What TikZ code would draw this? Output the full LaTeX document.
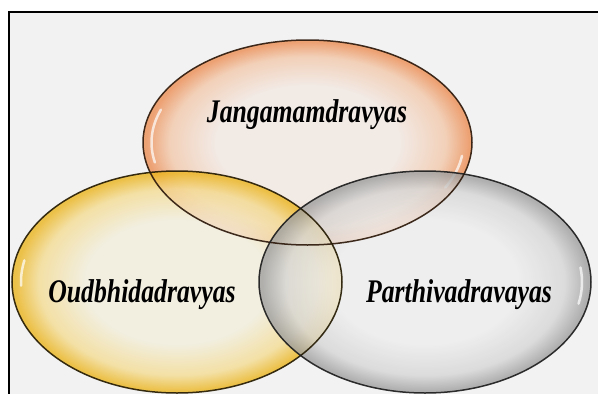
\documentclass[tikz,border=0pt]{standalone}
\usepackage{fontspec}
\usepackage{graphicx}
\usetikzlibrary{shapes.geometric}
\setmainfont{Liberation Serif}
\definecolor{bgray}{HTML}{F2F2F2}
\definecolor{jc}{HTML}{F3E8E2}
\definecolor{jm}{HTML}{F2C8AA}
\definecolor{je}{HTML}{EC8E55}
\definecolor{oc}{HTML}{F3EEDC}
\definecolor{om}{HTML}{F4DC92}
\definecolor{oe}{HTML}{EBB520}
\definecolor{pc}{HTML}{EDEDED}
\definecolor{pm}{HTML}{D6D6D6}
\definecolor{pe}{HTML}{A0A0A0}
\definecolor{jline}{HTML}{2E1A0C}
\definecolor{oline}{HTML}{261C04}
\definecolor{pline}{HTML}{1E1E1E}
\pgfdeclareradialshading{glossJ}{\pgfpoint{0bp}{0bp}}{color(0bp)=(jc); color(14bp)=(jc); color(21bp)=(jm); color(24.5bp)=(je); color(50bp)=(je)}
\pgfdeclareradialshading{glossO}{\pgfpoint{0bp}{0bp}}{color(0bp)=(oc); color(14bp)=(oc); color(21bp)=(om); color(24.5bp)=(oe); color(50bp)=(oe)}
\pgfdeclareradialshading{glossP}{\pgfpoint{0bp}{0bp}}{color(0bp)=(pc); color(14bp)=(pc); color(21bp)=(pm); color(24.5bp)=(pe); color(50bp)=(pe)}
\tikzset{
  bubble/.style={ellipse, inner sep=0pt, outer sep=0pt, fill opacity=0.8},
  rim/.style={line width=1.5pt, opacity=0.92},
  lbl/.style={anchor=base, inner sep=0pt, font=\fontsize{33}{40}\selectfont\bfseries\itshape},
  shine/.style={white, line width=2.5pt, line cap=round, opacity=0.7},
  frameline/.style={black, line width=2pt}
}
\newcommand{\sq}[1]{\scalebox{0.78}[1]{#1}}
\begin{document}
\begin{tikzpicture}[x=1pt,y=-1pt]
\useasboundingbox (0,0) rectangle (598,394);
\fill[white] (0,0) rectangle (598,394);
\fill[bgray] (9,12) rectangle (598,394);
\coordinate (fa) at (9,394);
\coordinate (fb) at (9,12);
\coordinate (fc) at (598,12);
\draw[frameline] (fa) -- (fb) -- (fc);
% bubbles
\node[bubble, shading=glossJ, minimum width=329pt, minimum height=205pt] (J) at (307.5,142.5) {};
\draw[shine] ([shift={(160:156pt and 96pt)}]J.center) arc[start angle=160, end angle=192, x radius=156pt, y radius=96pt];
\draw[shine] ([shift={(-8:156pt and 96pt)}]J.center) arc[start angle=-8, end angle=-28, x radius=156pt, y radius=96pt];
\node[bubble, shading=glossO, minimum width=330pt, minimum height=222pt] (O) at (177,282) {};
\draw[shine] ([shift={(168:156pt and 104pt)}]O.center) arc[start angle=168, end angle=182, x radius=156pt, y radius=104pt];
\node[bubble, shading=glossP, minimum width=332pt, minimum height=222pt] (P) at (425,282) {};
\draw[shine] ([shift={(8:157pt and 104pt)}]P.center) arc[start angle=8, end angle=-12, x radius=157pt, y radius=104pt];
% outlines
\draw[rim, jline] (J.center) ellipse [x radius=164.5pt, y radius=102.5pt];
\draw[rim, oline] (O.center) ellipse [x radius=165pt, y radius=111pt];
\draw[rim, pline] (P.center) ellipse [x radius=166pt, y radius=111pt];
% labels
\node[lbl] (tJ) at (307,122) {\sq{Jangamamdravyas}};
\node[lbl] (tO) at (142,302) {\sq{Oudbhidadravyas}};
\node[lbl] (tP) at (459,302) {\sq{Parthivadravayas}};
\end{tikzpicture}
\end{document}
